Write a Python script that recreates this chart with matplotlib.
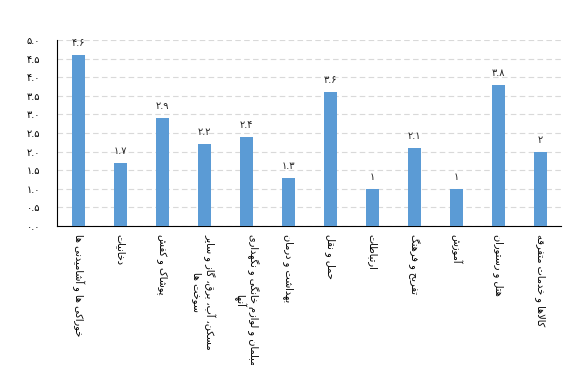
import matplotlib
matplotlib.use("Agg")
import matplotlib.pyplot as plt

categories = [
    "خوراکی ها و آشامیدنی ها",
    "دخانیات",
    "پوشاک و کفش",
    "مسکن، آب، برق، گاز و سایر\nسوخت ها",
    "مبلمان و لوازم خانگی و نگهداری\nآنها",
    "بهداشت و درمان",
    "حمل و نقل",
    "ارتباطات",
    "تفریح و فرهنگ",
    "آموزش",
    "هتل و رستوران",
    "کالاها و خدمات متفرقه",
]
values = [4.6, 1.7, 2.9, 2.2, 2.4, 1.3, 3.6, 1.0, 2.1, 1.0, 3.8, 2.0]
value_labels = ["۴.۶", "۱.۷", "۲.۹", "۲.۲", "۲.۴", "۱.۳", "۳.۶", "۱", "۲.۱", "۱", "۳.۸", "۲"]
yticks = [0, 0.5, 1, 1.5, 2, 2.5, 3, 3.5, 4, 4.5, 5]
ytick_labels = ["۰.۰", "۰.۵", "۱.۰", "۱.۵", "۲.۰", "۲.۵", "۳.۰", "۳.۵", "۴.۰", "۴.۵", "۵.۰"]

# presentation forms: isolated, final, initial, medial (None = does not join forward)
FORMS = {
    "ا": (0xFE8D, 0xFE8E, None, None),
    "آ": (0xFE81, 0xFE82, None, None),
    "ب": (0xFE8F, 0xFE90, 0xFE91, 0xFE92),
    "پ": (0xFB56, 0xFB57, 0xFB58, 0xFB59),
    "ت": (0xFE95, 0xFE96, 0xFE97, 0xFE98),
    "ح": (0xFEA1, 0xFEA2, 0xFEA3, 0xFEA4),
    "خ": (0xFEA5, 0xFEA6, 0xFEA7, 0xFEA8),
    "د": (0xFEA9, 0xFEAA, None, None),
    "ر": (0xFEAD, 0xFEAE, None, None),
    "ز": (0xFEAF, 0xFEB0, None, None),
    "س": (0xFEB1, 0xFEB2, 0xFEB3, 0xFEB4),
    "ش": (0xFEB5, 0xFEB6, 0xFEB7, 0xFEB8),
    "ط": (0xFEC1, 0xFEC2, 0xFEC3, 0xFEC4),
    "ف": (0xFED1, 0xFED2, 0xFED3, 0xFED4),
    "ق": (0xFED5, 0xFED6, 0xFED7, 0xFED8),
    "ک": (0xFB8E, 0xFB8F, 0xFB90, 0xFB91),
    "گ": (0xFB92, 0xFB93, 0xFB94, 0xFB95),
    "ل": (0xFEDD, 0xFEDE, 0xFEDF, 0xFEE0),
    "م": (0xFEE1, 0xFEE2, 0xFEE3, 0xFEE4),
    "ن": (0xFEE5, 0xFEE6, 0xFEE7, 0xFEE8),
    "ه": (0xFEE9, 0xFEEA, 0xFEEB, 0xFEEC),
    "و": (0xFEED, 0xFEEE, None, None),
    "ی": (0xFBFC, 0xFBFD, 0xFBFE, 0xFBFF),
}


def shape_line(s):
    s = s.replace("لا", "\uE000")  # lam-alef placeholder
    out = []
    for i, c in enumerate(s):
        prev = s[i - 1] if i > 0 else ""
        nxt = s[i + 1] if i + 1 < len(s) else ""
        if nxt == "\uE000":
            nxt = "ل"
        if c == "\uE000":
            joins_prev = prev in FORMS and FORMS[prev][2] is not None
            out.append(chr(0xFEFC if joins_prev else 0xFEFB))
            continue
        if c not in FORMS:
            out.append(c)
            continue
        f = FORMS[c]
        joins_prev = prev in FORMS and FORMS[prev][2] is not None
        joins_next = f[2] is not None and nxt in FORMS
        if joins_prev and joins_next:
            out.append(chr(f[3]))
        elif joins_prev:
            out.append(chr(f[1]))
        elif joins_next:
            out.append(chr(f[2]))
        else:
            out.append(chr(f[0]))
    return "".join(out)[::-1]


def rtl(s):
    return "\n".join(shape_line(line) for line in s.split("\n"))


plt.rcParams["font.family"] = ["DejaVu Sans"]

fig = plt.figure(figsize=(5.76, 3.65), dpi=100)
ax = fig.add_axes([0.099, 0.381, 0.875, 0.509])

x = list(range(len(values)))
bars = ax.bar(x, values, width=0.31, color="#5B9BD5", zorder=3)

for xi, v, lab in zip(x, values, value_labels):
    ax.annotate(lab, (xi, v), xytext=(0, 5), textcoords="offset points",
                ha="center", va="bottom", fontsize=7, color="#222222")

ax.set_xlim(-0.5, len(values) - 0.5)
ax.set_ylim(0, 5)
ax.set_yticks(yticks)
ax.set_yticklabels(ytick_labels, fontsize=7)
ax.set_xticks(x)
ax.set_xticklabels([rtl(c) for c in categories], rotation=-90, fontsize=7,
                   ha="center", va="top", multialignment="center")
ax.tick_params(axis="both", length=0, pad=6)
ax.tick_params(axis="y", pad=12)

ax.grid(axis="y", color="#D9D9D9", linestyle=(0, (5, 3)), linewidth=0.8, zorder=0)
for side in ["top", "right"]:
    ax.spines[side].set_visible(False)
ax.spines["left"].set_color("black")
ax.spines["bottom"].set_color("black")
ax.spines["left"].set_linewidth(0.8)
ax.spines["bottom"].set_linewidth(0.8)

fig.savefig("out.png", dpi=100)
